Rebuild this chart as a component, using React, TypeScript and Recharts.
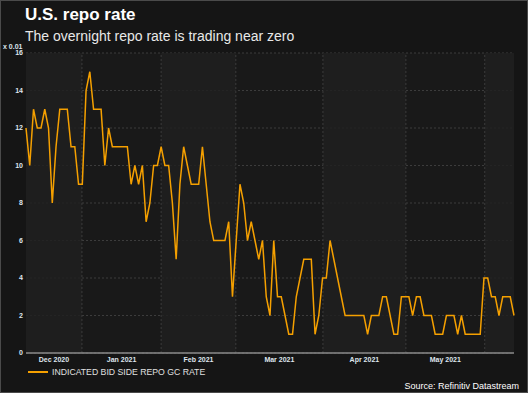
import {
    CartesianGrid, Line, LineChart, ReferenceArea, ReferenceLine, XAxis, YAxis
} from "recharts";

// daily indicated bid side repo GC rate, in hundredths of a percent
const REPO_RATE = [
    12, 10, 13, 12, 12, 13, 12, 8, 11, 13,
    13, 13, 11, 11, 9, 9, 14, 15, 13, 13,
    13, 10, 12, 11, 11, 11, 11, 11, 9, 10,
    9, 10, 7, 8, 10, 10, 11, 10, 10, 8,
    5, 9, 11, 10, 9, 9, 9, 11, 9, 7,
    6, 6, 6, 6, 7, 3, 6, 9, 8, 6,
    7, 6, 5, 6, 3, 2, 6, 3, 3, 2,
    1, 1, 3, 4, 5, 5, 5, 1, 2, 4,
    4, 6, 5, 4, 3, 2, 2, 2, 2, 2,
    2, 1, 2, 2, 2, 3, 3, 2, 1, 1,
    3, 3, 3, 2, 3, 3, 2, 2, 2, 1,
    1, 1, 2, 2, 2, 1, 2, 1, 1, 1,
    1, 1, 4, 4, 3, 3, 2, 3, 3, 3,
    2,
];

const MONTH_LABELS = ["Dec 2020", "Jan 2021", "Feb 2021", "Mar 2021", "Apr 2021", "May 2021"];
// band edges on the observation index scale
const MONTH_EDGES = [0, 14.9, 36, 55.9, 79.1, 101.2, 122.2, 130];
const Y_TICKS = [0, 2, 4, 6, 8, 10, 12, 14, 16];

const data = REPO_RATE.map((rate, i) => ({ i, rate }));
const labelTicks = MONTH_LABELS.map((_, k) => (MONTH_EDGES[k] + MONTH_EDGES[k + 1]) / 2);
const gridTicks = MONTH_EDGES.slice(1, MONTH_EDGES.length - 1);
const bands = MONTH_EDGES.slice(0, -1).map((x1, k) => ({ x1, x2: MONTH_EDGES[k + 1], light: k % 2 === 0 }));

const FONT = "'Liberation Sans', Arial, sans-serif";
const LINE_COLOR = "#f5a000";
const GRID_COLOR = "#3c3c3c";
const TICK = { fill: "#dfe6ee", fontSize: 7, fontWeight: 700, fontFamily: FONT };

export default function App() {
    const labelFor = (v: number) => {
        const k = labelTicks.indexOf(v);
        return k >= 0 ? MONTH_LABELS[k] : "";
    };

    return (
        <div
            style={{
                position: "absolute", left: 0, top: 0, width: 528, height: 393,
                background: "#151515", border: "1px solid #4a4a4a", boxSizing: "border-box",
                fontFamily: FONT, overflow: "hidden",
            }}
        >
            <div style={{ position: "absolute", left: 24, top: 4, color: "#ffffff", fontSize: 17, fontWeight: 700 }}>
                U.S. repo rate
            </div>
            <div style={{ position: "absolute", left: 24, top: 27, color: "#e8e8e8", fontSize: 14 }}>
                The overnight repo rate is trading near zero
            </div>
            <div style={{ position: "absolute", left: 2, top: 42, color: "#dfe6ee", fontSize: 7, fontWeight: 700 }}>
                x 0.01
            </div>

            <div style={{ position: "absolute", left: -1, top: -1 }}>
                <LineChart width={528} height={393} data={data} margin={{ top: 53, right: 14, left: 0, bottom: 26 }}>
                    <CartesianGrid
                        xAxisId="label"
                        yAxisId="y"
                        fill="#191919"
                        stroke={GRID_COLOR}
                        strokeDasharray="2 2"
                        vertical={false}
                    />
                    {bands.filter((b) => b.light).map((b) => (
                        <ReferenceArea
                            key={b.x1}
                            xAxisId="label"
                            yAxisId="y"
                            x1={b.x1}
                            x2={b.x2}
                            y1={0}
                            y2={16}
                            fill="#202020"
                            fillOpacity={0.85}
                            stroke="none"
                            ifOverflow="hidden"
                        />
                    ))}
                    {gridTicks.map((x) => (
                        <ReferenceLine
                            key={x}
                            xAxisId="label"
                            yAxisId="y"
                            x={x}
                            stroke={GRID_COLOR}
                            strokeDasharray="2 2"
                        />
                    ))}
                    <XAxis
                        xAxisId="label"
                        dataKey="i"
                        type="number"
                        domain={[0, REPO_RATE.length - 1]}
                        ticks={labelTicks}
                        tickFormatter={labelFor}
                        tick={TICK}
                        tickSize={0}
                        tickMargin={4}
                        tickLine={false}
                        axisLine={{ stroke: "#8a8a8a", strokeWidth: 1.5 }}
                        height={14}
                        interval={0}
                    />
                    <YAxis
                        yAxisId="y"
                        domain={[0, 16]}
                        ticks={Y_TICKS}
                        tick={TICK}
                        tickSize={0}
                        tickMargin={3}
                        tickLine={false}
                        axisLine={false}
                        width={26}
                        interval={0}
                    />
                    <Line
                        xAxisId="label"
                        yAxisId="y"
                        type="linear"
                        dataKey="rate"
                        stroke={LINE_COLOR}
                        strokeWidth={1.5}
                        dot={false}
                        isAnimationActive={false}
                    />
                </LineChart>
            </div>

            <div style={{ position: "absolute", left: 27, top: 366, display: "flex", alignItems: "center" }}>
                <div style={{ width: 20, height: 2, background: LINE_COLOR, marginRight: 4 }} />
                <span style={{ color: "#e0e0e0", fontSize: 8.7 }}>INDICATED BID SIDE REPO GC RATE</span>
            </div>
            <div style={{ position: "absolute", right: 8, top: 380, color: "#ffffff", fontSize: 9 }}>
                Source: Refinitiv Datastream
            </div>
        </div>
    );
}
